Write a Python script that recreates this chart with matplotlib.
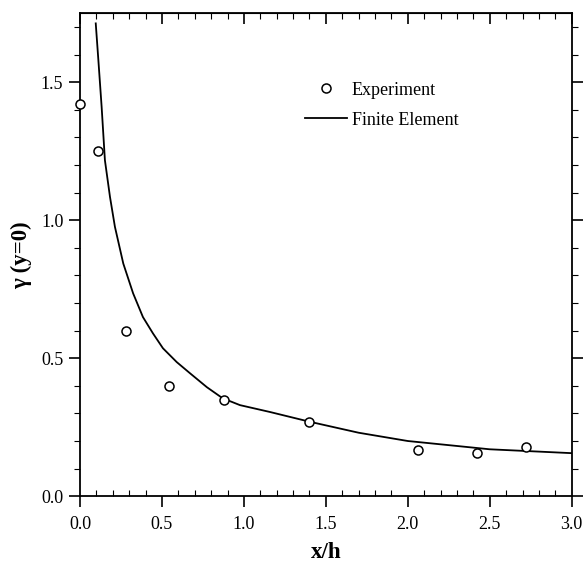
import numpy as np
import matplotlib
matplotlib.use("Agg")
import matplotlib.pyplot as plt
from matplotlib.ticker import MultipleLocator

plt.rcParams["font.family"] = ["Liberation Serif", "DejaVu Serif"]

# experiment (open circles)
exp_x = [0.0, 0.11, 0.28, 0.54, 0.88, 1.40, 2.06, 2.42, 2.72]
exp_y = [1.42, 1.25, 0.60, 0.40, 0.35, 0.27, 0.166, 0.155, 0.177]

# finite element curve
fe_x = [0.096, 0.112, 0.132, 0.152, 0.183, 0.213, 0.264, 0.324, 0.384, 0.445,
        0.506, 0.59, 0.67, 0.774, 0.87, 0.976, 1.16, 1.4, 1.7, 2.0, 2.5, 3.0]
fe_y = [1.713, 1.58, 1.41, 1.217, 1.084, 0.976, 0.843, 0.735, 0.649, 0.59,
        0.536, 0.486, 0.446, 0.395, 0.355, 0.33, 0.305, 0.27, 0.23, 0.20, 0.17, 0.156]

xticks = [0.0, 0.5, 1.0, 1.5, 2.0, 2.5, 3.0]
yticks = [0.0, 0.5, 1.0, 1.5]

fig = plt.figure(figsize=(5.84, 5.73), dpi=100)
ax = fig.add_axes([0.137, 0.134, 0.842, 0.843])

ax.plot(fe_x, fe_y, color="black", linewidth=1.3, label="Finite Element")
ax.plot(exp_x, exp_y, linestyle="none", marker="o", markersize=6.5,
        markerfacecolor="white", markeredgecolor="black", markeredgewidth=1.1,
        label="Experiment", clip_on=False, zorder=5)

ax.set_xlim(0, 3.0)
ax.set_ylim(0, 1.75)
ax.set_xticks(xticks)
ax.set_xticklabels([f"{v:.1f}" for v in xticks])
ax.set_yticks(yticks)
ax.set_yticklabels([f"{v:.1f}" for v in yticks])
ax.xaxis.set_minor_locator(MultipleLocator(0.1))
ax.yaxis.set_minor_locator(MultipleLocator(0.1))

ax.tick_params(axis="x", which="major", direction="out", length=8, width=1.2,
               labelsize=13, pad=6)
ax.tick_params(axis="x", which="minor", direction="in", length=4, width=0.8)
ax.tick_params(axis="y", which="both", direction="out", right=True,
               labelsize=13, pad=4)
ax.tick_params(axis="y", which="major", length=8, width=1.2)
ax.tick_params(axis="y", which="minor", length=4, width=0.8)

top = ax.secondary_xaxis("top")
top.set_xticks(xticks)
top.xaxis.set_minor_locator(MultipleLocator(0.1))
top.tick_params(which="major", direction="in", length=8, width=1.2, labeltop=False)
top.tick_params(which="minor", direction="in", length=4, width=0.8)

for s in ax.spines.values():
    s.set_linewidth(1.3)

ax.set_xlabel("x/h", fontsize=16.5, fontweight="bold", labelpad=7)
ax.set_ylabel("γ (y=0)", fontsize=16.5, fontweight="bold", labelpad=6)

handles, labels = ax.get_legend_handles_labels()
ax.legend(handles[::-1], labels[::-1], loc="upper left",
          bbox_to_anchor=(0.424, 0.892), frameon=False, fontsize=13,
          handlelength=2.35, handletextpad=0.25, labelspacing=0.72)

fig.savefig("out.png", dpi=100)
